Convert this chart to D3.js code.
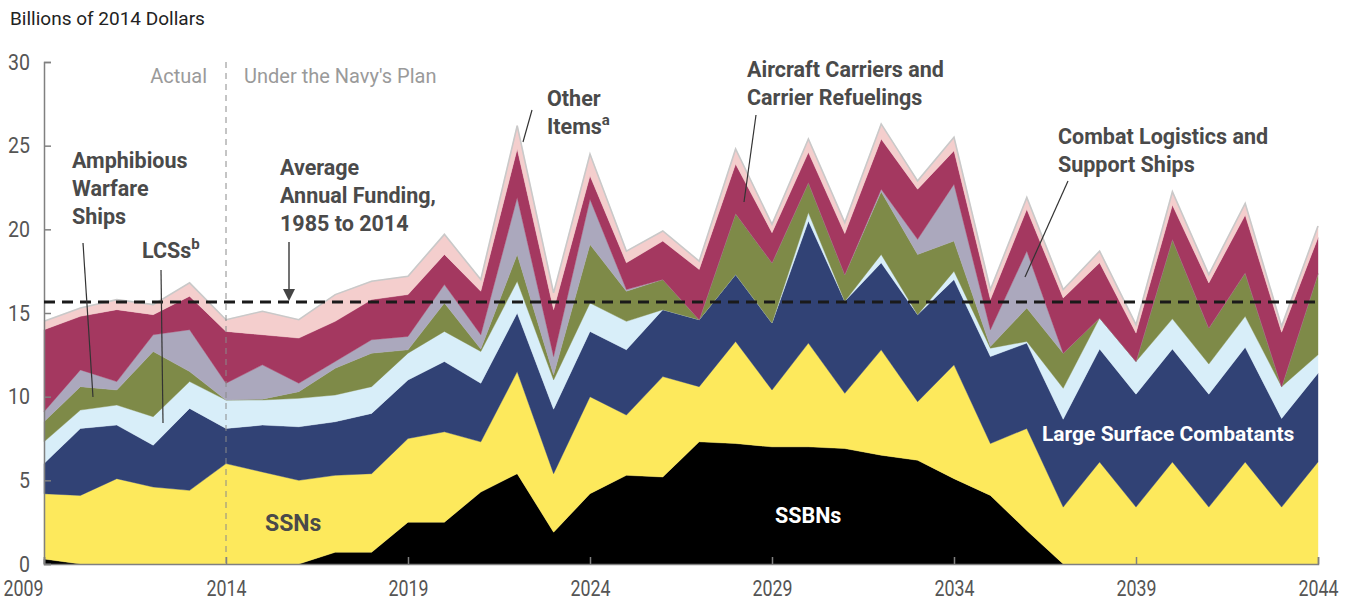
<!DOCTYPE html>
<html>
<head>
<meta charset="utf-8">
<script src="https://cdn.jsdelivr.net/npm/d3@7"></script>
<style>
  html, body { margin: 0; padding: 0; background: #fff; }
  svg { display: block; }
  text { font-family: "Roboto", "Liberation Sans", sans-serif; }
</style>
</head>
<body>
<svg id="chart" width="1351" height="603"></svg>
<script>
// ---- Data (billions of 2014 dollars) ----
const years = d3.range(2009, 2045);
const ssbns = [0.3,0,0,0,0,0,0,0,0.7,0.7,2.5,2.5,4.3,5.4,1.9,4.2,5.3,5.2,7.3,7.2,7.0,7.0,6.9,6.5,6.2,5.1,4.1,2.0,0,0,0,0,0,0,0,0];
const ssns = [3.9,4.1,5.1,4.6,4.4,6.0,5.5,5.0,4.6,4.7,5.0,5.4,3.0,6.1,3.5,5.8,3.6,6.0,3.3,6.1,3.4,6.2,3.3,6.3,3.5,6.8,3.1,6.1,3.4,6.1,3.4,6.1,3.4,6.1,3.4,6.1];
const largeSurface = [1.8,4.0,3.2,2.5,4.9,2.1,2.8,3.2,3.2,3.6,3.5,4.2,3.5,3.5,3.85,3.9,3.9,4.0,4.0,4.0,4.0,7.3,5.5,5.2,5.2,5.1,5.2,5.1,5.25,6.75,6.75,6.75,6.75,6.85,5.3,5.3];
const lcss = [1.3,1.1,1.2,1.7,1.6,1.7,1.5,1.7,1.6,1.6,1.6,1.8,1.9,1.9,1.75,1.7,1.7,0,0,0,0,0.5,0,0.5,0,0.5,0.5,0.1,1.85,1.85,1.95,1.8,1.8,1.85,1.9,1.1];
const amphibious = [1.2,1.4,0.9,3.9,0.6,0,0.05,0.4,1.6,2.0,0.2,1.7,0.15,1.6,0.3,3.5,1.8,1.8,0,3.65,3.6,1.8,1.6,3.75,3.6,1.8,0.1,2.0,2.1,0,0,4.75,2.15,2.6,0,4.85];
const combatLogistics = [0.6,1.0,0.5,1.0,2.5,1.0,2.05,0.5,0.4,0.8,0.8,1.1,0.85,3.4,1.1,2.7,0.1,0,0,0,0,0,0,0.15,0.9,3.4,1.0,3.4,0,0,0,0,0,0,0,0];
const carriers = [4.9,3.2,4.3,1.2,2.0,3.1,1.8,2.7,2.4,2.4,2.5,1.8,2.6,2.9,2.8,1.4,1.6,2.3,3.0,2.95,1.8,1.8,2.45,3.0,3.0,2.0,1.8,2.5,3.3,3.3,1.7,2.05,2.7,3.45,3.25,2.15];
const otherItems = [0.5,0.5,0.6,0.6,0.8,0.7,1.4,1.1,1.6,1.1,1.1,1.2,0.7,1.4,1.0,1.3,0.7,0.6,0.5,0.9,0.5,0.8,0.65,0.9,0.5,0.8,0.6,0.7,0.5,0.7,0.5,0.8,0.5,0.7,0.35,0.7];
const averageFunding = 15.65;
const xTickYears = [2009, 2014, 2019, 2024, 2029, 2034, 2039, 2044];
const yTicks = [0, 5, 10, 15, 20, 25, 30];

const seriesKeys = ["ssbns","ssns","largeSurface","lcss","amphibious","combatLogistics","carriers","otherItems"];
const seriesData = {ssbns, ssns, largeSurface, lcss, amphibious, combatLogistics, carriers, otherItems};
const colors = {
  ssbns: "#000000",
  ssns: "#fde95c",
  largeSurface: "#314275",
  lcss: "#d8eef9",
  amphibious: "#7e8a48",
  combatLogistics: "#aba8bd",
  carriers: "#a43860",
  otherItems: "#f4cecd"
};

const table = years.map((yr, i) => {
  const row = {year: yr};
  seriesKeys.forEach(k => row[k] = seriesData[k][i]);
  return row;
});

// ---- Layout ----
const svg = d3.select("#chart");
const x = d3.scaleLinear().domain([2009, 2044]).range([44, 1318]);
const y = d3.scaleLinear().domain([0, 30]).range([564, 62]);

const stack = d3.stack().keys(seriesKeys);
const layers = stack(table);

const area = d3.area()
  .x(d => x(d.data.year))
  .y0(d => y(d[0]))
  .y1(d => y(d[1]));

svg.append("g").selectAll("path")
  .data(layers)
  .join("path")
  .attr("d", area)
  .attr("fill", d => colors[d.key])
  .attr("stroke", d => colors[d.key])
  .attr("stroke-width", 0.4);

// gray outline on top of the stack
const topLine = d3.line()
  .x(d => x(d.data.year))
  .y(d => y(d[1]));
svg.append("path")
  .attr("d", topLine(layers[layers.length - 1]))
  .attr("fill", "none")
  .attr("stroke", "#c9c9c9")
  .attr("stroke-width", 1.6);

// vertical dashed line at 2014
svg.append("line")
  .attr("x1", x(2014)).attr("x2", x(2014))
  .attr("y1", y(30)).attr("y2", y(0))
  .attr("stroke", "#8a8a8a").attr("stroke-width", 1)
  .attr("stroke-dasharray", "6 5");

// axes
const yAxis = d3.axisLeft(y).tickValues(yTicks).tickSize(-7).tickPadding(14);
const gy = svg.append("g").attr("transform", `translate(${x(2009)},0)`).call(yAxis);
gy.select(".domain").attr("stroke", "#808080").attr("stroke-width", 1.5);
gy.selectAll(".tick line").attr("stroke", "#808080").attr("stroke-width", 1.5);
gy.selectAll(".tick text")
  .attr("fill", "#555").attr("font-size", 22)
  .style("font-family", '"Roboto", sans-serif')
  .attr("textLength", d => d >= 10 ? 22 : 11)
  .attr("lengthAdjust", "spacingAndGlyphs");

const xAxis = d3.axisBottom(x).tickValues(xTickYears).tickFormat(d3.format("d")).tickSize(-7).tickPadding(16);
const gx = svg.append("g").attr("transform", `translate(0,${y(0)})`).call(xAxis);
gx.select(".domain").attr("stroke", "#808080").attr("stroke-width", 1.5);
gx.selectAll(".tick line").attr("stroke", "#808080").attr("stroke-width", 1.5);
gx.selectAll(".tick text")
  .attr("fill", "#555").attr("font-size", 22)
  .style("font-family", '"Roboto", sans-serif')
  .attr("textLength", 40)
  .attr("lengthAdjust", "spacingAndGlyphs");
gx.selectAll(".tick text").filter(d => d === 2009).attr("text-anchor", "end").attr("x", -1);

// average funding dashed line
svg.append("line")
  .attr("x1", x(2009)).attr("x2", x(2044))
  .attr("y1", y(averageFunding)).attr("y2", y(averageFunding))
  .attr("stroke", "#1a1a1a").attr("stroke-width", 3)
  .attr("stroke-dasharray", "11 7");

// ---- Text ----
const labelColor = "#4a4a4a";
svg.append("text").attr("x", 10).attr("y", 25)
  .attr("font-size", 19).attr("fill", "#222").text("Billions of 2014 Dollars");

svg.append("text").attr("x", 207).attr("y", 83).attr("text-anchor", "end")
  .attr("font-size", 20).attr("fill", "#9a9a9a").text("Actual");
svg.append("text").attr("x", 244).attr("y", 83)
  .attr("font-size", 20).attr("fill", "#9a9a9a").text("Under the Navy's Plan");

function multiline(xp, ys, lines, opts = {}) {
  const t = svg.append("text")
    .attr("font-size", opts.size || 21.5)
    .attr("font-weight", "bold")
    .attr("fill", opts.fill || labelColor);
  lines.forEach((ln, i) => {
    const ts = t.append("tspan").attr("x", xp).attr("y", ys[i]);
    if (Array.isArray(ln)) {
      ts.text(ln[0]);
      t.append("tspan").attr("dy", -9).attr("font-size", 15).text(ln[1]);
    } else {
      ts.text(ln);
    }
  });
  return t;
}

multiline(72, [168, 196, 224], ["Amphibious", "Warfare", "Ships"]);
multiline(142, [258], [["LCSs", "b"]]);
multiline(280, [175, 203, 231], ["Average", "Annual Funding,", "1985 to 2014"]);
multiline(547, [106, 134], ["Other", ["Items", "a"]]);
multiline(747, [77, 105], ["Aircraft Carriers and", "Carrier Refuelings"]);
multiline(1058, [144, 172], ["Combat Logistics and", "Support Ships"]);
multiline(1042, [441], ["Large Surface Combatants"], {fill: "#ffffff", size: 21});
multiline(265, [531], ["SSNs"], {size: 23});
multiline(775, [523], ["SSBNs"], {fill: "#ffffff"});

// leader lines
const leaders = [
  [83, 243, 93, 397],
  [161, 270, 163, 423],
  [532, 110, 523, 142],
  [756, 115, 744, 202],
  [1068, 181, 1025, 277]
];
svg.append("g").selectAll("line").data(leaders).join("line")
  .attr("x1", d => d[0]).attr("y1", d => d[1])
  .attr("x2", d => d[2]).attr("y2", d => d[3])
  .attr("stroke", "#333").attr("stroke-width", 1.2);

// arrow for average funding
const ax = 289, ay0 = 242, ay1 = y(averageFunding) - 1;
svg.append("line").attr("x1", ax).attr("x2", ax).attr("y1", ay0).attr("y2", ay1 - 10)
  .attr("stroke", "#444").attr("stroke-width", 1.5);
svg.append("path")
  .attr("d", `M${ax - 6},${ay1 - 12} L${ax + 6},${ay1 - 12} L${ax},${ay1} Z`)
  .attr("fill", "#444");
</script>
</body>
</html>
